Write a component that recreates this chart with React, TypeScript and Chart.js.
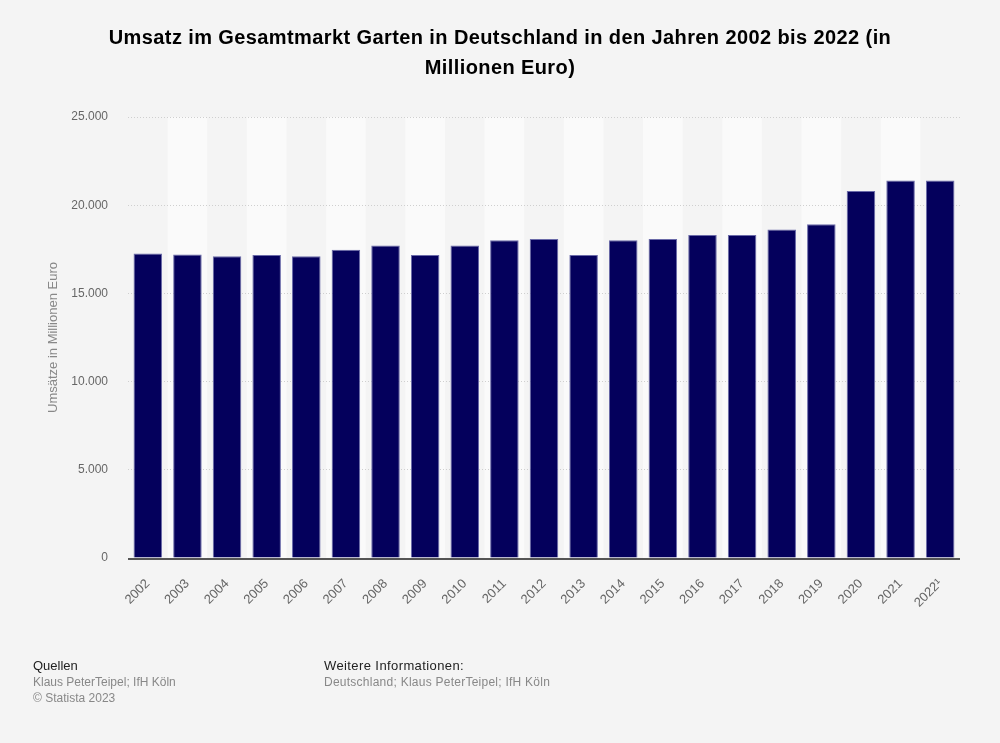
import React, { useEffect, useRef } from "react";
import { Chart, registerables } from "chart.js";

Chart.register(...registerables);

const years = ["2002","2003","2004","2005","2006","2007","2008","2009","2010","2011","2012","2013","2014","2015","2016","2017","2018","2019","2020","2021","2022¹"];
const revenue = [17260,17200,17100,17180,17100,17480,17710,17180,17710,18010,18090,17180,18010,18090,18310,18310,18620,18920,20800,21400,21400];
const yTicks = [0,5000,10000,15000,20000,25000];

const FONT = "'Liberation Sans', Arial, sans-serif";

function fmt(v: number): string {
  const s = String(Math.round(v));
  return s.replace(/\B(?=(\d{3})+(?!\d))/g, ".");
}

const bandsPlugin = {
  id: "bands",
  beforeDraw(chart: any) {
    const { ctx, chartArea, scales } = chart;
    const x = scales.x;
    const w = (chartArea.right - chartArea.left) / years.length;
    ctx.save();
    ctx.fillStyle = "#fafafa";
    for (let i = 1; i < years.length; i += 2) {
      const c = x.getPixelForValue(i);
      ctx.fillRect(c - w / 2, chartArea.top, w, chartArea.bottom - chartArea.top);
    }
    ctx.restore();
  },
  afterDatasetsDraw(chart: any) {
    const { ctx, chartArea } = chart;
    ctx.save();
    ctx.strokeStyle = "#555";
    ctx.lineWidth = 2;
    ctx.beginPath();
    ctx.moveTo(chartArea.left, chartArea.bottom + 1);
    ctx.lineTo(chartArea.right, chartArea.bottom + 1);
    ctx.stroke();
    ctx.restore();
  },
};

export default function App() {
  const ref = useRef<HTMLCanvasElement | null>(null);
  useEffect(() => {
    if (!ref.current) return;
    const chart = new Chart(ref.current, {
      type: "bar",
      data: {
        labels: years,
        datasets: [
          {
            data: revenue,
            backgroundColor: "#04005c",
            borderColor: "#6a6aa8",
            borderWidth: { top: 1, left: 1, right: 1, bottom: 0 },
            categoryPercentage: 0.72,
            barPercentage: 1,
          },
        ],
      },
      options: {
        animation: false,
        responsive: false,
        maintainAspectRatio: false,
        devicePixelRatio: 1,
        layout: { padding: { left: 46, right: 40, top: 117, bottom: 0 } },
        plugins: { legend: { display: false }, tooltip: { enabled: false }, title: { display: false } },
        scales: {
          x: {
            grid: { display: false, drawTicks: false },
            border: { display: false },
            ticks: {
              color: "#666",
              font: { family: FONT, size: 13 },
              minRotation: 45,
              maxRotation: 45,
              padding: 18,
              autoSkip: false,
            },
            afterFit(scale: any) {
              scale.height = 743 - 558;
            },
          },
          y: {
            min: 0,
            max: 25000,
            afterBuildTicks(scale: any) {
              scale.ticks = yTicks.map((v) => ({ value: v }));
            },
            grid: {
              color: "#cfcfcf",
              lineWidth: 1,
              drawTicks: false,
            },
            border: { display: false, dash: [1, 2] },
            ticks: {
              color: "#666",
              font: { family: FONT, size: 12 },
              padding: 20,
              callback: (v: any) => fmt(Number(v)),
            },
            title: {
              display: true,
              text: "Umsätze in Millionen Euro",
              color: "#888",
              font: { family: FONT, size: 13 },
              padding: { top: 0, bottom: 0 },
            },
            afterFit(scale: any) {
              scale.width = 128 - 46;
            },
          },
        },
      },
      plugins: [bandsPlugin],
    } as any);
    return () => chart.destroy();
  }, []);

  return (
    <div
      style={{
        position: "fixed",
        left: 0,
        top: 0,
        width: 1000,
        height: 743,
        background: "#f4f4f4",
        fontFamily: FONT,
        overflow: "hidden",
      }}
    >
      <canvas ref={ref} width={1000} height={743} style={{ position: "absolute", left: 0, top: 0, width: 1000, height: 743 }} />
      <div
        style={{
          position: "absolute",
          left: 95,
          width: 810,
          top: 22,
          textAlign: "center",
          fontWeight: "bold",
          fontSize: 20,
          letterSpacing: 0.4,
          lineHeight: "30px",
          color: "#000",
        }}
      >
        Umsatz im Gesamtmarkt Garten in Deutschland in den Jahren 2002 bis 2022 (in Millionen Euro)
      </div>
      <div style={{ position: "absolute", left: 33, top: 658, fontSize: 13, lineHeight: "16px" }}>
        <div style={{ color: "#222" }}>Quellen</div>
        <div style={{ color: "#888", fontSize: 12 }}>Klaus PeterTeipel; IfH Köln</div>
        <div style={{ color: "#888", fontSize: 12 }}>© Statista 2023</div>
      </div>
      <div style={{ position: "absolute", left: 324, top: 658, fontSize: 13, lineHeight: "16px" }}>
        <div style={{ color: "#222", letterSpacing: 0.4 }}>Weitere Informationen:</div>
        <div style={{ color: "#888", fontSize: 12, letterSpacing: 0.25 }}>Deutschland; Klaus PeterTeipel; IfH Köln</div>
      </div>
    </div>
  );
}
